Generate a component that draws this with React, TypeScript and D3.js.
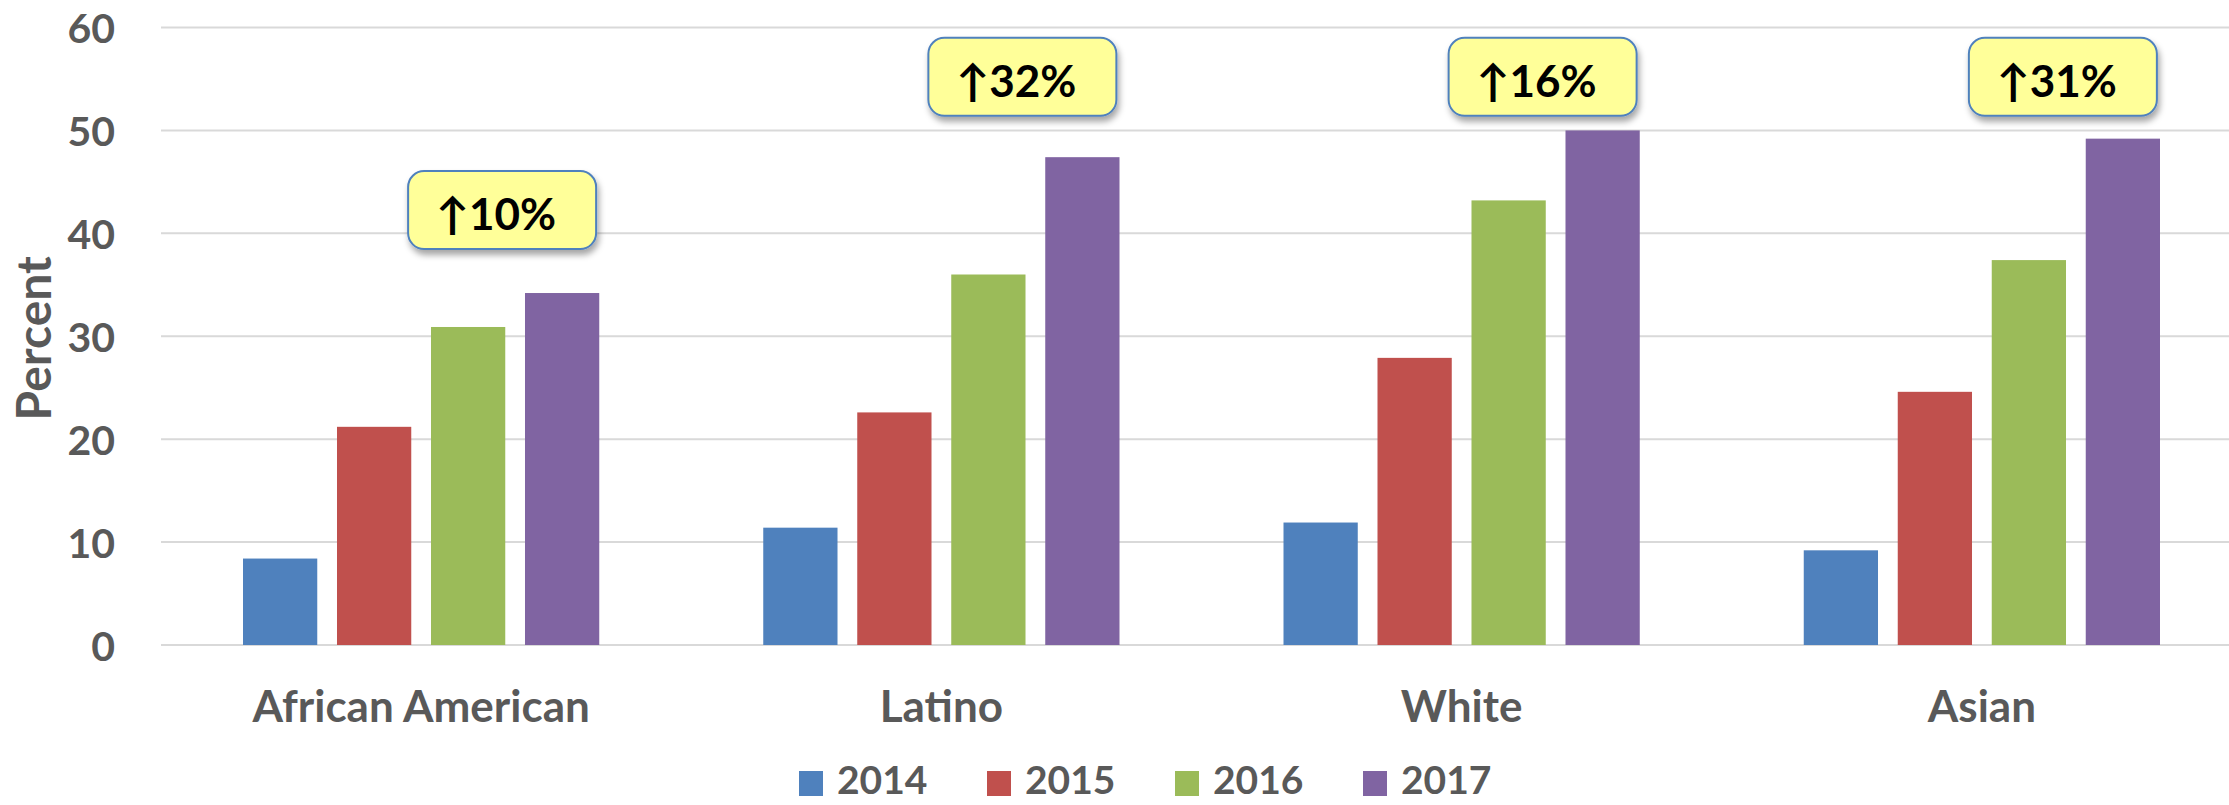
import React from "react";
import * as d3 from "d3";

const categories = ["African American", "Latino", "White", "Asian"];
const years = ["2014", "2015", "2016", "2017"];
const v2014 = [8.4, 11.4, 11.9, 9.2];
const v2015 = [21.2, 22.6, 27.9, 24.6];
const v2016 = [30.9, 36.0, 43.2, 37.4];
const v2017 = [34.2, 47.4, 50.0, 49.2];
const changeLabels = ["↑10%", "↑32%", "↑16%", "↑31%"];
const yTicks = [0, 10, 20, 30, 40, 50, 60];
const colors = ["#4F81BD", "#C0504D", "#9BBB59", "#8064A2"];

const W = 2229;
const H = 805;
const FONT = "Lato, 'Open Sans', sans-serif";
const TXT = "#595959";

export default function App() {
  const series = [v2014, v2015, v2016, v2017];
  const x0 = d3.scaleBand<string>().domain(categories).range([161, 2242]).paddingInner(0).paddingOuter(0);
  const inner = d3
    .scaleBand<string>()
    .domain(years)
    .range([82, x0.bandwidth() - 82])
    .paddingInner(0.21)
    .paddingOuter(0);
  const y = d3.scaleLinear().domain([0, 60]).range([645, 27.5]);

  return (
    <div style={{ position: "absolute", left: 0, top: 0 }}>
      <svg width={W} height={H} style={{ display: "block", background: "#fff" }}>
        <defs>
          <filter id="shadow" x="-20%" y="-20%" width="140%" height="160%">
            <feDropShadow dx="2" dy="5" stdDeviation="3" floodColor="#000" floodOpacity="0.35" />
          </filter>
        </defs>
        {yTicks.map((t) => (
          <g key={t}>
            <line x1={161} x2={W} y1={y(t)} y2={y(t)} stroke="#D9D9D9" strokeWidth={2} />
            <text
              x={115}
              y={y(t)}
              textAnchor="end"
              dominantBaseline="central"
              fontFamily={FONT}
              fontWeight={700}
              fontSize={41}
              fill={TXT}
            >
              {t}
            </text>
          </g>
        ))}
        <text
          transform={`translate(32,${y(30) + 2}) rotate(-90)`}
          textAnchor="middle"
          dominantBaseline="central"
          fontFamily={FONT}
          fontWeight={700}
          fontSize={48}
          fill={TXT}
        >
          Percent
        </text>
        {categories.map((c, ci) => (
          <g key={c} transform={`translate(${x0(c)},0)`}>
            {years.map((yr, si) => (
              <rect
                key={yr}
                x={inner(yr)}
                y={y(series[si][ci])}
                width={inner.bandwidth()}
                height={y(0) - y(series[si][ci])}
                fill={colors[si]}
              />
            ))}
            <text
              x={x0.bandwidth() / 2}
              y={722}
              textAnchor="middle"
              fontFamily={FONT}
              fontWeight={700}
              fontSize={44}
              fill={TXT}
            >
              {c}
            </text>
          </g>
        ))}
        {categories.map((c, ci) => {
          const maxV = d3.max(series, (s) => s[ci]) as number;
          const top = Math.max(y(maxV) - 122, y(59));
          const cx =
            (x0(c) as number) +
            (inner("2016") as number) +
            inner.bandwidth() +
            (inner.step() - inner.bandwidth()) / 2 -
            13;
          const bw = 188;
          const bh = 78;
          return (
            <g key={"ann" + c}>
              <rect
                x={cx - bw / 2}
                y={top}
                width={bw}
                height={bh}
                rx={16}
                ry={16}
                fill="#FFFF99"
                stroke="#4F81BD"
                strokeWidth={2}
                filter="url(#shadow)"
              />
              <text
                x={cx - 6}
                y={top + 59}
                textAnchor="middle"
                fontFamily={FONT}
                fontWeight={700}
                fontSize={44}
                fill="#000"
              >
                {changeLabels[ci]}
              </text>
            </g>
          );
        })}
        {years.map((yr, i) => {
          const lx = 799 + i * 188;
          return (
            <g key={"leg" + yr}>
              <rect x={lx} y={771} width={24} height={25} fill={colors[i]} />
              <text
                x={lx + 38}
                y={779}
                dominantBaseline="central"
                fontFamily={FONT}
                fontWeight={700}
                fontSize={39}
                fill={TXT}
              >
                {yr}
              </text>
            </g>
          );
        })}
      </svg>
    </div>
  );
}
